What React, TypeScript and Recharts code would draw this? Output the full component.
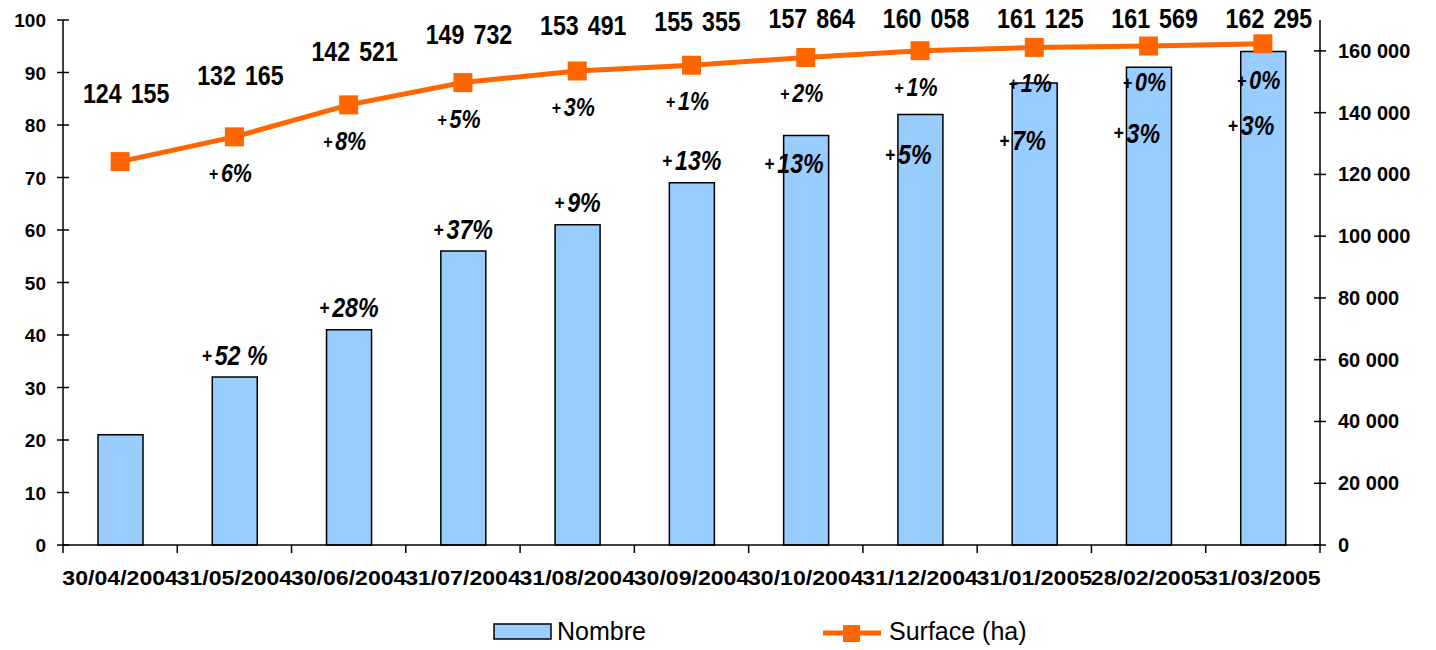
import React from 'react'
import { ComposedChart, Bar, Line, XAxis, YAxis, LabelList, Legend } from 'recharts'

const dates = [
  '30/04/2004', '31/05/2004', '30/06/2004', '31/07/2004', '31/08/2004', '30/09/2004',
  '30/10/2004', '31/12/2004', '31/01/2005', '28/02/2005', '31/03/2005',
]
const nombre = [21, 32, 41, 56, 61, 69, 78, 82, 88, 91, 94]
const surface = [124155, 132165, 142521, 149732, 153491, 155355, 157864, 160058, 161125, 161569, 162295]
const nombreGrowth = ['', '+52 %', '+28%', '+37%', '+9%', '+13%', '+13%', '+5%', '+7%', '+3%', '+3%']
const surfaceGrowth = ['', '+6%', '+8%', '+5%', '+3%', '+1%', '+2%', '+1%', '+1%', '+0%', '+0%']
const leftTicks = [0, 10, 20, 30, 40, 50, 60, 70, 80, 90, 100]
const rightTicks = [0, 20000, 40000, 60000, 80000, 100000, 120000, 140000, 160000]

const data = dates.map((date, i) => ({
  date,
  nombre: nombre[i],
  surface: surface[i],
  nGrowth: nombreGrowth[i],
  sGrowth: surfaceGrowth[i],
}))

const W = 1436
const H = 650
const LEFT = 63
const RIGHT = 1320
const BOTTOM = 545
const BAND = (RIGHT - LEFT) / dates.length
const FONT = '"Liberation Sans", Arial, sans-serif'
const BLUE = '#99CCFF'
const ORANGE = '#FF6600'

const fmt = (v: number) => String(v).replace(/\B(?=(\d{3})+(?!\d))/g, ' ')

const LeftTick = ({ y, payload }: any) => (
  <g>
    <line x1={LEFT - 6} x2={LEFT + 6} y1={y} y2={y} stroke="#000" strokeWidth={1.5} />
    <text x={LEFT - 17} y={y + 7} textAnchor="end"
      fontSize={19} fontWeight="bold" fontFamily={FONT} fill="#000">{payload.value}</text>
  </g>
)

const RightTick = ({ y, payload }: any) => (
  <g>
    <line x1={RIGHT - 6} x2={RIGHT + 6} y1={y} y2={y} stroke="#000" strokeWidth={1.5} />
    <text x={RIGHT + 18} y={y + 7} textAnchor="start"
      fontSize={20} fontWeight="bold" fontFamily={FONT} fill="#000">{fmt(payload.value)}</text>
  </g>
)

const XTick = ({ x, payload, index }: any) => (
  <g>
    <line x1={x - BAND / 2} x2={x - BAND / 2} y1={BOTTOM} y2={BOTTOM + 8} stroke="#000" strokeWidth={1.5} />
    {index === dates.length - 1 && (
      <line x1={x + BAND / 2} x2={x + BAND / 2} y1={BOTTOM} y2={BOTTOM + 8} stroke="#000" strokeWidth={1.5} />
    )}
    <text transform={`translate(${x},${BOTTOM + 40}) scale(1.1,1)`} textAnchor="middle"
      fontSize={21} fontWeight="bold" fontFamily={FONT} fill="#000">{payload.value}</text>
  </g>
)

const Pct = ({ x, y, label, size }: { x: number; y: number; label: string; size: number }) => (
  <text transform={`translate(${x},${y + size * 0.36}) scale(0.86,1)`} textAnchor="middle"
    fontFamily={FONT} fill="#000">
    <tspan fontSize={size * 0.75} fontWeight="bold" dy={-size * 0.08}>{label.charAt(0)}</tspan>
    <tspan fontSize={size} fontWeight="bold" fontStyle="italic" dx={3} dy={size * 0.08}>{label.slice(1)}</tspan>
  </text>
)

const SurfaceValueLabel = (props: any) => {
  const { x, y, value } = props
  const ly = Math.max(18, 0.75 * y - 28)
  return (
    <text transform={`translate(${x + 6},${ly + 10}) scale(0.86,1)`} textAnchor="middle"
      fontSize={27} fontWeight="bold" fontFamily={FONT} fill="#000" wordSpacing={3}>{fmt(value)}</text>
  )
}

const SurfaceGrowthLabel = (props: any) => {
  const { x, y, value } = props
  if (!value) return null
  return <Pct x={x - 4} y={y + 36} label={value} size={25} />
}

const NombreGrowthLabel = (props: any) => {
  const { x, y, width, value } = props
  if (!value) return null
  const above = y - 22 > 150
  const ly = above ? y - 22 : 126 + (y - 52) * 0.45
  const lx = x + width / 2 - (above ? 0 : 12)
  return <Pct x={lx} y={ly} label={value} size={27} />
}

const SquareDot = (props: any) => {
  const { cx, cy } = props
  if (cx == null || cy == null) return null
  return <rect key={`dot-${props.index}`} x={cx - 9.5} y={cy - 9.5} width={19} height={19} fill={ORANGE} />
}

const renderLegend = () => (
  <div style={{ position: 'relative', width: W, height: 35, fontFamily: FONT, fontSize: 25, color: '#000' }}>
    <svg style={{ position: 'absolute', left: 493, top: 16 }} width={60} height={19}>
      <rect x={1} y={1} width={57} height={15} fill={BLUE} stroke="#000" strokeWidth={1.5} />
    </svg>
    <span style={{ position: 'absolute', left: 557, top: 12, lineHeight: '25px' }}>Nombre</span>
    <svg style={{ position: 'absolute', left: 822, top: 16 }} width={60} height={20}>
      <line x1={1} x2={59} y1={10} y2={10} stroke={ORANGE} strokeWidth={5} />
      <rect x={21} y={2} width={17} height={17} fill={ORANGE} />
    </svg>
    <span style={{ position: 'absolute', left: 889, top: 12, lineHeight: '25px' }}>Surface (ha)</span>
  </div>
)

export default function App() {
  return (
    <div style={{ position: 'absolute', left: 0, top: 0, width: W, height: H, background: '#fff' }}>
      <ComposedChart width={W} height={H} data={data} margin={{ top: 20, right: 0, left: 0, bottom: 8 }}>
        <XAxis dataKey="date" height={62} interval={0} tickLine={false}
          axisLine={{ stroke: '#000', strokeWidth: 1.5 }} tick={<XTick />} />
        <YAxis yAxisId="left" width={63} domain={[0, 100]} ticks={leftTicks} tickLine={false}
          axisLine={{ stroke: '#000', strokeWidth: 1.5 }} tick={<LeftTick />} />
        <YAxis yAxisId="right" orientation="right" width={116} domain={[0, 170000]} ticks={rightTicks}
          tickLine={false} axisLine={{ stroke: '#000', strokeWidth: 1.5 }} tick={<RightTick />} />
        <Legend verticalAlign="bottom" content={renderLegend} />
        <Bar yAxisId="left" dataKey="nombre" name="Nombre" fill={BLUE} stroke="#000" strokeWidth={1.5}
          barSize={45} isAnimationActive={false}>
          <LabelList dataKey="nGrowth" content={<NombreGrowthLabel />} />
        </Bar>
        <Line yAxisId="right" dataKey="surface" name="Surface (ha)" stroke={ORANGE} strokeWidth={5}
          dot={<SquareDot />} activeDot={false} isAnimationActive={false}>
          <LabelList dataKey="surface" content={<SurfaceValueLabel />} />
          <LabelList dataKey="sGrowth" content={<SurfaceGrowthLabel />} />
        </Line>
      </ComposedChart>
    </div>
  )
}
